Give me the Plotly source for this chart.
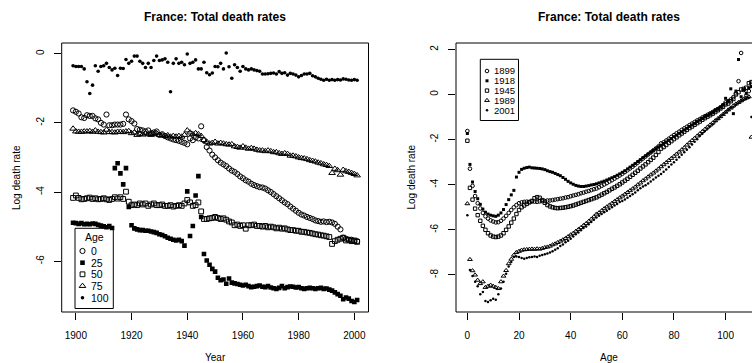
import plotly.graph_objects as go

# ---------------- data ----------------
years = list(range(1899, 2002))
age_labels = ["0", "25", "50", "75", "100"]

rate_age0 = [
    -1.64, -1.68, -1.73, -1.84, -1.86, -1.78, -1.80, -1.80, -1.87, -1.90,
    -2.00, -2.05, -1.76, -2.07, -2.07, -2.05, -2.05, -2.05, -2.03, -1.76,
    -1.90, -1.95, -2.02, -2.18, -2.20, -2.22, -2.25, -2.22, -2.30, -2.28,
    -2.25, -2.35, -2.33, -2.38, -2.42, -2.45, -2.48, -2.50, -2.52, -2.55,
    -2.58, -2.62, -2.45, -2.50, -2.42, -2.45, -2.10, -2.50, -2.70, -2.80,
    -2.92, -3.00, -3.08, -3.15, -3.20, -3.25, -3.32, -3.38, -3.42, -3.48,
    -3.55, -3.60, -3.66, -3.70, -3.76, -3.80, -3.83, -3.86, -3.87, -3.90,
    -3.95, -4.00, -4.06, -4.12, -4.18, -4.24, -4.30, -4.35, -4.42, -4.48,
    -4.54, -4.60, -4.65, -4.68, -4.72, -4.75, -4.78, -4.82, -4.84, -4.86,
    -4.85, -4.87, -4.86, -4.88, -4.92, -5.00, -5.08, -5.32, -5.35, -5.38,
    -5.38, -5.42, -5.42]
rate_age25 = [
    -4.89, -4.90, -4.92, -4.90, -4.93, -4.92, -4.93, -4.91, -4.92, -4.95,
    -4.97, -4.99, -5.02, -4.98, -5.04, -3.31, -3.17, -3.46, -3.78, -3.31,
    -4.43, -4.96, -5.05, -5.08, -5.10, -5.10, -5.12, -5.12, -5.14, -5.16,
    -5.18, -5.22, -5.24, -5.28, -5.32, -5.35, -5.38, -5.40, -5.38, -5.42,
    -5.55, -3.98, -5.27, -4.98, -4.10, -3.54, -4.72, -5.79, -5.98, -6.10,
    -6.22, -6.30, -6.48, -6.55, -6.53, -6.65, -6.50, -6.62, -6.64, -6.66,
    -6.68, -6.70, -6.68, -6.72, -6.75, -6.74, -6.72, -6.70, -6.74, -6.75,
    -6.72, -6.76, -6.78, -6.80, -6.77, -6.72, -6.78, -6.75, -6.73, -6.74,
    -6.76, -6.75, -6.78, -6.80, -6.78, -6.77, -6.78, -6.80, -6.78, -6.77,
    -6.80, -6.79, -6.82, -6.85, -6.90, -6.95, -7.00, -7.10, -7.05, -7.08,
    -7.15, -7.18, -7.12]
rate_age50 = [
    -4.17, -4.10, -4.17, -4.21, -4.20, -4.18, -4.16, -4.20, -4.18, -4.21,
    -4.20, -4.18, -4.21, -4.23, -4.20, -4.15, -4.19, -4.15, -4.20, -3.99,
    -4.28, -4.38, -4.36, -4.38, -4.33, -4.36, -4.33, -4.40, -4.36, -4.33,
    -4.38, -4.38, -4.36, -4.40, -4.40, -4.38, -4.42, -4.40, -4.38, -4.40,
    -4.33, -4.23, -4.30, -4.40, -4.38, -4.30, -4.56, -4.78, -4.78, -4.76,
    -4.75, -4.72, -4.75, -4.78, -4.76, -4.80, -4.85, -4.88, -4.96, -4.94,
    -4.98, -4.96, -5.06, -4.96, -4.96, -4.94, -4.98, -4.98, -5.00, -4.98,
    -5.02, -5.00, -5.02, -5.05, -5.03, -5.06, -5.05, -5.08, -5.10, -5.10,
    -5.12, -5.12, -5.15, -5.15, -5.17, -5.18, -5.20, -5.22, -5.23, -5.25,
    -5.26, -5.28, -5.30, -5.50, -5.42, -5.38, -5.35, -5.32, -5.40, -5.38,
    -5.42, -5.40, -5.44]
rate_age75 = [
    -2.17, -2.25, -2.26, -2.26, -2.25, -2.25, -2.24, -2.26, -2.22, -2.26,
    -2.27, -2.28, -2.20, -2.27, -2.27, -2.28, -2.26, -2.26, -2.27, -2.25,
    -2.24, -2.30, -2.28, -2.35, -2.32, -2.34, -2.30, -2.33, -2.35, -2.32,
    -2.30, -2.35, -2.36, -2.38, -2.36, -2.40, -2.38, -2.40, -2.38, -2.40,
    -2.35, -2.22, -2.28, -2.33, -2.30, -2.33, -2.38, -2.50, -2.55, -2.60,
    -2.58, -2.55, -2.60, -2.58, -2.60, -2.62, -2.63, -2.62, -2.68, -2.70,
    -2.72, -2.68, -2.72, -2.75, -2.73, -2.75, -2.78, -2.80, -2.80, -2.82,
    -2.80, -2.82, -2.85, -2.85, -2.88, -2.90, -2.88, -2.90, -2.95, -2.95,
    -2.97, -3.00, -3.02, -3.03, -3.05, -3.08, -3.10, -3.12, -3.15, -3.17,
    -3.20, -3.22, -3.25, -3.45, -3.33, -3.37, -3.50, -3.36, -3.40, -3.42,
    -3.45, -3.48, -3.52]
rate_age100 = [
    -0.35, -0.37, -0.37, -0.37, -0.44, -0.81, -1.15, -0.91, -0.35, -0.51,
    -0.37, -0.35, -0.28, -0.40, -0.47, -0.42, -0.63, -0.42, -0.43, -0.17,
    -0.28, -0.22, -0.07, -0.07, -0.22, -0.28, -0.40, -0.28, -0.40, -0.20,
    -0.07, -0.20, -0.18, -0.15, -0.25, -1.10, -0.28, -0.15, -0.28, -0.25,
    -0.32, -0.01, -0.28, -0.25, -0.18, -0.44, -0.44, -0.25, -0.55, -0.61,
    -0.56, -0.37, -0.38, -0.28, -0.44, 0.02, -0.38, -0.71, -0.32, -0.40,
    -0.51, -0.37, -0.44, -0.47, -0.44, -0.47, -0.49, -0.51, -0.59, -0.59,
    -0.58, -0.57, -0.56, -0.59, -0.52, -0.57, -0.55, -0.62, -0.57, -0.59,
    -0.62, -0.67, -0.63, -0.59, -0.59, -0.57, -0.64, -0.67, -0.71, -0.74,
    -0.77, -0.74, -0.77, -0.75, -0.77, -0.75, -0.76, -0.73, -0.74, -0.76,
    -0.77, -0.75, -0.77]

ages = list(range(0, 111))
year_labels = ["1899", "1918", "1945", "1989", "2001"]

rate_1899 = [
    -1.62, -3.29, -4.05, -4.50, -4.82, -5.05, -5.25, -5.40, -5.50, -5.58,
    -5.63, -5.67, -5.66, -5.60, -5.50, -5.38, -5.25, -5.12, -5.00, -4.90,
    -4.82, -4.78, -4.76, -4.75, -4.76, -4.74, -4.75, -4.76, -4.74, -4.73,
    -4.72, -4.70, -4.70, -4.68, -4.66, -4.64, -4.62, -4.60, -4.57, -4.55,
    -4.51, -4.48, -4.45, -4.42, -4.38, -4.35, -4.31, -4.28, -4.24, -4.20,
    -4.17, -4.11, -4.05, -3.99, -3.93, -3.86, -3.80, -3.73, -3.66, -3.59,
    -3.52, -3.44, -3.36, -3.28, -3.20, -3.11, -3.02, -2.93, -2.84, -2.75,
    -2.66, -2.57, -2.48, -2.39, -2.30, -2.17, -2.12, -2.04, -1.96, -1.88,
    -1.80, -1.72, -1.65, -1.57, -1.50, -1.43, -1.36, -1.29, -1.22, -1.15,
    -1.09, -1.02, -0.96, -0.90, -0.84, -0.78, -0.70, -0.65, -0.57, -0.48,
    -0.35, -0.30, -0.22, -0.12, 0.05, 0.59, 1.84, 0.20, -0.05, 0.15,
    0.47]
rate_1918 = [
    -1.73, -3.10, -3.88, -4.30, -4.62, -4.87, -5.08, -5.22, -5.30, -5.35,
    -5.38, -5.40, -5.35, -5.25, -5.10, -4.88, -4.66, -4.45, -4.25, -3.66,
    -3.45, -3.32, -3.27, -3.24, -3.22, -3.25, -3.26, -3.27, -3.28, -3.30,
    -3.33, -3.38, -3.42, -3.45, -3.50, -3.55, -3.60, -3.68, -3.76, -3.85,
    -3.92, -3.98, -4.03, -4.06, -4.08, -4.08, -4.06, -4.04, -4.01, -3.99,
    -3.96, -3.92, -3.88, -3.84, -3.79, -3.74, -3.69, -3.64, -3.58, -3.52,
    -3.45, -3.38, -3.30, -3.22, -3.14, -3.06, -2.97, -2.89, -2.80, -2.72,
    -2.64, -2.56, -2.48, -2.40, -2.32, -2.25, -2.17, -2.10, -2.02, -1.95,
    -1.87, -1.80, -1.72, -1.65, -1.57, -1.50, -1.42, -1.35, -1.28, -1.20,
    -1.13, -1.06, -0.98, -0.92, -0.85, -0.78, -0.70, -0.62, -0.56, -0.45,
    -0.17, -0.30, 0.25, -0.85, 0.15, 1.55, -0.10, 0.20, 0.05, 0.30,
    0.35]
rate_1945 = [
    -2.05, -4.14, -4.66, -5.06, -5.35, -5.60, -5.82, -6.00, -6.15, -6.25,
    -6.30, -6.32, -6.30, -6.25, -6.15, -6.00, -5.85, -5.68, -5.50, -5.30,
    -5.12, -5.00, -4.92, -4.85, -4.78, -4.72, -4.60, -4.55, -4.58, -4.68,
    -4.80, -4.90, -4.96, -5.00, -5.03, -5.04, -5.03, -5.02, -5.00, -4.98,
    -4.95, -4.92, -4.88, -4.84, -4.80, -4.76, -4.72, -4.68, -4.64, -4.60,
    -4.56, -4.50, -4.44, -4.38, -4.32, -4.25, -4.18, -4.12, -4.05, -3.98,
    -3.90, -3.82, -3.74, -3.65, -3.56, -3.47, -3.38, -3.28, -3.19, -3.10,
    -3.00, -2.90, -2.80, -2.68, -2.55, -2.40, -2.33, -2.24, -2.15, -2.07,
    -1.98, -1.90, -1.81, -1.73, -1.65, -1.57, -1.49, -1.42, -1.34, -1.27,
    -1.20, -1.12, -1.05, -0.98, -0.92, -0.85, -0.78, -0.70, -0.62, -0.55,
    -0.44, -0.40, -0.30, -0.20, 0.00, 0.10, 0.22, 0.25, 0.30, 0.50,
    0.55]
rate_1989 = [
    -4.84, -7.31, -7.81, -8.00, -8.23, -8.38, -8.30, -8.55, -8.50, -8.45,
    -8.50, -8.55, -8.60, -8.30, -8.05, -7.80, -7.50, -7.30, -7.12, -7.00,
    -6.95, -6.90, -6.88, -6.87, -6.86, -6.85, -6.86, -6.84, -6.85, -6.82,
    -6.78, -6.76, -6.72, -6.66, -6.62, -6.56, -6.50, -6.44, -6.38, -6.30,
    -6.22, -6.15, -6.06, -5.98, -5.90, -5.80, -5.72, -5.62, -5.52, -5.42,
    -5.30, -5.24, -5.15, -5.06, -4.98, -4.90, -4.82, -4.74, -4.66, -4.58,
    -4.50, -4.42, -4.34, -4.26, -4.18, -4.10, -4.00, -3.92, -3.82, -3.74,
    -3.65, -3.56, -3.48, -3.39, -3.30, -3.20, -3.11, -3.02, -2.92, -2.83,
    -2.74, -2.64, -2.55, -2.45, -2.36, -2.24, -2.14, -2.04, -1.94, -1.84,
    -1.74, -1.64, -1.54, -1.44, -1.35, -1.26, -1.16, -1.07, -0.98, -0.88,
    -0.78, -0.68, -0.60, -0.50, -0.42, -0.35, -0.28, -0.20, -0.15, -0.10,
    -1.89]
rate_2001 = [
    -5.35, -7.78, -8.05, -8.30, -8.50, -8.85, -8.75, -9.15, -9.20, -9.12,
    -9.05, -9.10, -8.85, -8.60, -8.30, -7.95, -7.62, -7.42, -7.20, -7.18,
    -7.20, -7.25, -7.28, -7.25, -7.22, -7.20, -7.18, -7.20, -7.15, -7.12,
    -7.08, -7.05, -7.00, -6.95, -6.88, -6.82, -6.72, -6.65, -6.55, -6.48,
    -6.40, -6.30, -6.20, -6.12, -6.02, -5.92, -5.85, -5.75, -5.65, -5.55,
    -5.45, -5.38, -5.30, -5.22, -5.15, -5.08, -5.00, -4.92, -4.85, -4.77,
    -4.72, -4.65, -4.58, -4.50, -4.42, -4.34, -4.25, -4.16, -4.08, -4.02,
    -3.95, -3.86, -3.77, -3.68, -3.60, -3.52, -3.42, -3.32, -3.22, -3.10,
    -3.00, -2.89, -2.78, -2.67, -2.56, -2.45, -2.34, -2.22, -2.10, -1.98,
    -1.84, -1.74, -1.62, -1.52, -1.42, -1.32, -1.20, -1.10, -1.00, -0.90,
    -0.80, -0.70, -0.60, -0.55, -0.45, -0.38, -0.30, -0.25, -0.20, -0.15,
    -1.00]

left_xticks = [1900, 1920, 1940, 1960, 1980, 2000]
left_yticks = [0, -2, -4, -6]
right_xticks = [0, 20, 40, 60, 80, 100]
right_yticks = [2, 0, -2, -4, -6, -8]

left_series = [rate_age0, rate_age25, rate_age50, rate_age75, rate_age100]
right_series = [rate_1899, rate_1918, rate_1945, rate_1989, rate_2001]

# ---------------- styling ----------------
W, H = 752, 363
FONT = "Liberation Sans, Arial, Helvetica, sans-serif"
symbols = ["circle-open", "square", "square-open", "triangle-up-open", "circle"]
left_sizes = [5.2, 4.6, 4.8, 5.8, 3.6]
right_sizes = [3.6, 3.0, 3.4, 4.2, 2.5]


def px_x(p):
    return p / W


def px_y(p):
    return 1 - p / H


def padded(vals):
    lo, hi = min(vals), max(vals)
    d = (hi - lo) * 0.04
    return [lo - d, hi + d]


box_top, box_bot = 43.0, 312.0
L_left, L_right = 61.7, 368.5
R_left = 456.0
box_w = L_right - L_left

left_xr = padded(years)
left_yr = padded([v for s in left_series for v in s])
full_rx = padded(ages)
vis = (W - R_left) / box_w
right_xr = [full_rx[0], full_rx[0] + vis * (full_rx[1] - full_rx[0])]
right_yr = padded([v for s in right_series for v in s])


def mk(sym, size):
    if sym.endswith("open"):
        return dict(symbol=sym, size=size, color="black", line=dict(color="black", width=1.0))
    return dict(symbol=sym, size=size, color="black", line=dict(width=0))


fig = go.Figure()

for lab, s, sym, sz in zip(age_labels, left_series, symbols, left_sizes):
    fig.add_trace(go.Scatter(x=years, y=s, mode="markers", marker=mk(sym, sz),
                             xaxis="x", yaxis="y", showlegend=False, name=lab))

for lab, s, sym, sz in zip(year_labels, right_series, symbols, right_sizes):
    fig.add_trace(go.Scatter(x=ages, y=s, mode="markers", marker=mk(sym, sz),
                             xaxis="x2", yaxis="y2", showlegend=False, name=lab,
                             cliponaxis=False))

# ---------------- legends (pixel-space overlay axis) ----------------
annotations = []

# left legend
leg1_rows = [251.0, 262.7, 274.3, 286.0, 297.7]
leg1_sym_x = 82.5
leg1_txt_x = 89.0
for lab, sym, sz, ry in zip(age_labels, symbols, left_sizes, leg1_rows):
    fig.add_trace(go.Scatter(x=[leg1_sym_x], y=[ry], mode="markers", marker=mk(sym, sz),
                             xaxis="x3", yaxis="y3", showlegend=False, hoverinfo="skip"))
    annotations.append(dict(x=px_x(leg1_txt_x), y=px_y(ry), xref="paper", yref="paper",
                            text=lab, showarrow=False, xanchor="left", yanchor="middle",
                            font=dict(family=FONT, size=10.5, color="black")))
annotations.append(dict(x=px_x(94.2), y=px_y(237.0), xref="paper", yref="paper", text="Age",
                        showarrow=False, xanchor="center", yanchor="middle",
                        font=dict(family=FONT, size=10.5, color="black")))

# right legend
leg2_rows = [71.0, 80.8, 90.6, 100.4, 110.2]
leg2_sym_x = 487.0
leg2_txt_x = 492.3
for lab, sym, sz, ry in zip(year_labels, symbols, right_sizes, leg2_rows):
    fig.add_trace(go.Scatter(x=[leg2_sym_x], y=[ry], mode="markers", marker=mk(sym, sz),
                             xaxis="x3", yaxis="y3", showlegend=False, hoverinfo="skip"))
    annotations.append(dict(x=px_x(leg2_txt_x), y=px_y(ry), xref="paper", yref="paper",
                            text=lab, showarrow=False, xanchor="left", yanchor="middle",
                            font=dict(family=FONT, size=9.5, color="black")))

# titles
for cx in [(L_left + L_right) / 2, R_left + box_w / 2]:
    annotations.append(dict(x=px_x(cx), y=px_y(16.7), xref="paper", yref="paper",
                            text="<b>France: Total death rates</b>", showarrow=False,
                            xanchor="center", yanchor="middle",
                            font=dict(family=FONT, size=12, color="black")))
# axis titles
annotations.append(dict(x=px_x((L_left + L_right) / 2), y=px_y(357.0), xref="paper", yref="paper",
                        text="Year", showarrow=False, xanchor="center", yanchor="middle",
                        font=dict(family=FONT, size=10, color="black")))
annotations.append(dict(x=px_x(R_left + box_w / 2), y=px_y(357.0), xref="paper", yref="paper",
                        text="Age", showarrow=False, xanchor="center", yanchor="middle",
                        font=dict(family=FONT, size=10, color="black")))
for cx in [16.5, 411.0]:
    annotations.append(dict(x=px_x(cx), y=px_y((box_top + box_bot) / 2), xref="paper", yref="paper",
                            text="Log death rate", showarrow=False, textangle=-90,
                            xanchor="center", yanchor="middle",
                            font=dict(family=FONT, size=10, color="black")))

shapes = [
    dict(type="rect", xref="paper", yref="paper", x0=px_x(L_left), x1=px_x(L_right),
         y0=px_y(box_bot), y1=px_y(box_top), line=dict(color="black", width=1)),
    dict(type="rect", xref="paper", yref="paper", x0=px_x(R_left), x1=px_x(R_left + box_w),
         y0=px_y(box_bot), y1=px_y(box_top), line=dict(color="black", width=1)),
    dict(type="rect", xref="paper", yref="paper", x0=px_x(75.0), x1=px_x(113.3),
         y0=px_y(308.5), y1=px_y(228.3), line=dict(color="black", width=1)),
    dict(type="rect", xref="paper", yref="paper", x0=px_x(480.3), x1=px_x(518.5),
         y0=px_y(120.5), y1=px_y(59.3), line=dict(color="black", width=1)),
]

tickfont = dict(family=FONT, size=10, color="black")
common = dict(ticks="outside", ticklen=7, tickwidth=1, tickcolor="black", showgrid=False,
              zeroline=False, showline=False, tickfont=tickfont, fixedrange=True)

fig.update_layout(
    width=W, height=H, margin=dict(l=0, r=0, t=0, b=0),
    paper_bgcolor="white", plot_bgcolor="rgba(0,0,0,0)",
    showlegend=False,
    xaxis=dict(domain=[px_x(L_left), px_x(L_right)], range=left_xr, anchor="y",
               tickvals=left_xticks, ticktext=[str(t) for t in left_xticks],
               ticklabelstandoff=7, **common),
    yaxis=dict(domain=[px_y(box_bot), px_y(box_top)], range=left_yr, anchor="x",
               tickvals=left_yticks, ticktext=[str(t) for t in left_yticks],
               tickangle=-90, ticklabelstandoff=6, **common),
    xaxis2=dict(domain=[px_x(R_left), 1.0], range=right_xr, anchor="y2",
                tickvals=right_xticks, ticktext=[str(t) for t in right_xticks],
                ticklabelstandoff=7, **common),
    yaxis2=dict(domain=[px_y(box_bot), px_y(box_top)], range=right_yr, anchor="x2",
                tickvals=right_yticks, ticktext=[str(t) for t in right_yticks],
                tickangle=-90, ticklabelstandoff=6, **common),
    xaxis3=dict(domain=[0, 1], range=[0, W], anchor="y3", visible=False, fixedrange=True),
    yaxis3=dict(domain=[0, 1], range=[H, 0], anchor="x3", visible=False, fixedrange=True),
    annotations=annotations,
    shapes=shapes,
)

fig.write_html("out.html", config={"displayModeBar": False, "staticPlot": True})
